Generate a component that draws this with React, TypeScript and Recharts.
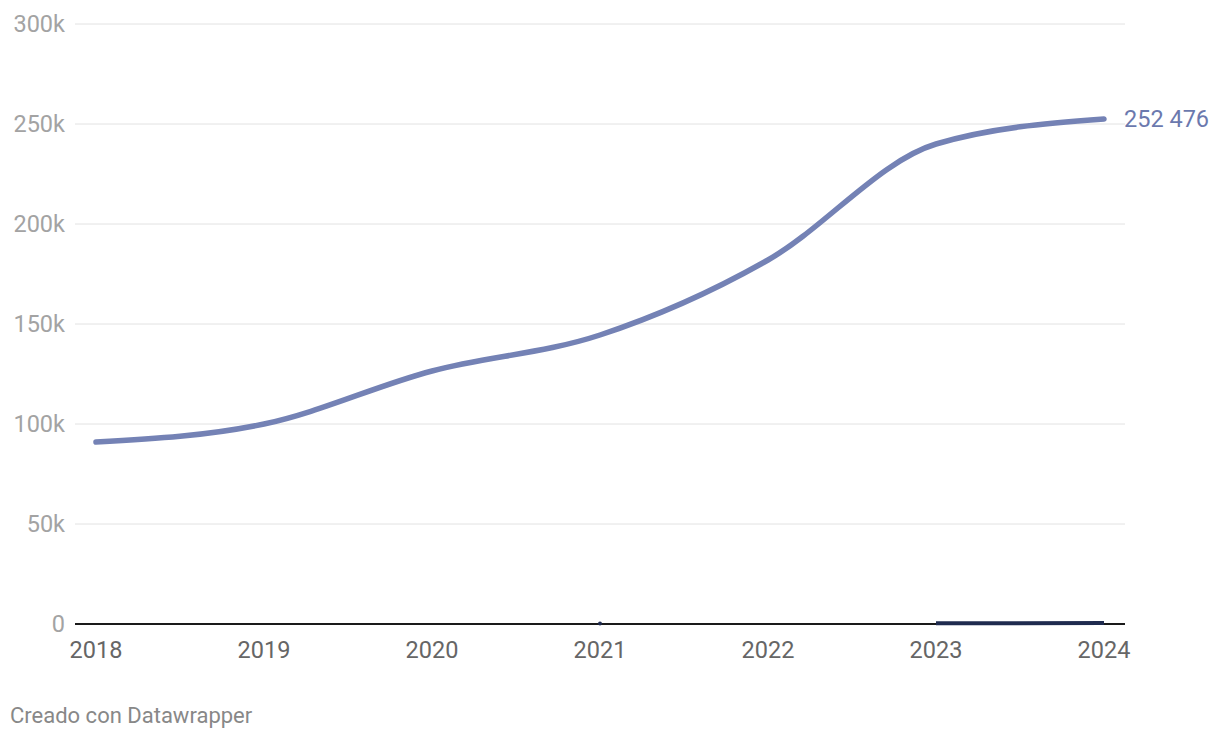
import React from "react";
import {
  LineChart,
  Line,
  XAxis,
  YAxis,
  CartesianGrid,
  ReferenceLine,
} from "recharts";

const years = [2018, 2019, 2020, 2021, 2022, 2023, 2024];
const mainValues = [91000, 100000, 126500, 144500, 182000, 240000, 252476];
const minorValues = [null, null, null, 300, null, 400, 450];
const yTicks = [0, 50000, 100000, 150000, 200000, 250000, 300000];

const data = years.map((year, i) => ({
  year,
  main: mainValues[i],
  minor: minorValues[i],
}));

const MAIN_COLOR = "#7482b5";
const MINOR_COLOR = "#1f2b4f";
const FONT = "Roboto, 'Noto Sans', sans-serif";

const formatY = (v: number) => (v === 0 ? "0" : `${v / 1000}k`);
const formatNumber = (v: number) =>
  String(Math.round(v)).replace(/\B(?=(\d{3})+(?!\d))/g, " ");

const renderEndLabel = (props: any) => {
  const { x, y, index, value } = props;
  if (index !== data.length - 1) return null;
  return (
    <text
      x={x + 20}
      y={y}
      dy={8}
      fill="#6b79ae"
      fontSize={23.5}
      fontFamily={FONT}
    >
      {formatNumber(value)}
    </text>
  );
};

// only draw a dot where the point has no neighbours (otherwise invisible)
const renderIsolatedDot = (props: any) => {
  const { cx, cy, index } = props;
  const prev = index > 0 ? minorValues[index - 1] : null;
  const next = index < minorValues.length - 1 ? minorValues[index + 1] : null;
  if (minorValues[index] == null || prev != null || next != null) {
    return <g key={`d-${index}`} />;
  }
  return <circle key={`d-${index}`} cx={cx} cy={cy} r={2} fill={MINOR_COLOR} />;
};

export default function App() {
  return (
    <div
      style={{
        position: "absolute",
        left: 0,
        top: 0,
        width: 1220,
        height: 740,
        background: "#fff",
        fontFamily: FONT,
      }}
    >
      <LineChart
        width={1220}
        height={740}
        data={data}
        margin={{ top: 24, right: 95, bottom: 86, left: 0 }}
      >
        <CartesianGrid vertical={false} stroke="#e2e2e2" strokeWidth={1} />
        <XAxis
          dataKey="year"
          type="number"
          domain={[2018, 2024]}
          ticks={years}
          padding={{ left: 21, right: 21 }}
          axisLine={false}
          tickLine={false}
          tickSize={0}
          tickMargin={17}
          height={30}
          tick={{ fill: "#666", fontSize: 23.5, fontFamily: FONT }}
        />
        <YAxis
          domain={[0, 300000]}
          ticks={yTicks}
          tickFormatter={formatY}
          axisLine={false}
          tickLine={false}
          tickSize={0}
          tickMargin={10}
          width={75}
          tick={{ fill: "#a3a3a3", fontSize: 23.5, fontFamily: FONT }}
        />
        <ReferenceLine y={0} stroke="#1a1a1a" strokeWidth={2} />
        <Line
          dataKey="minor"
          type="monotone"
          stroke={MINOR_COLOR}
          strokeWidth={4}
          dot={renderIsolatedDot}
          activeDot={false}
          isAnimationActive={false}
        />
        <Line
          dataKey="main"
          type="monotone"
          stroke={MAIN_COLOR}
          strokeWidth={5.5}
          strokeLinecap="round"
          dot={false}
          activeDot={false}
          label={renderEndLabel}
          isAnimationActive={false}
        />
      </LineChart>
      <div
        style={{
          position: "absolute",
          left: 10,
          top: 703,
          fontSize: 22,
          color: "#888",
          fontFamily: FONT,
        }}
      >
        Creado con Datawrapper
      </div>
    </div>
  );
}
